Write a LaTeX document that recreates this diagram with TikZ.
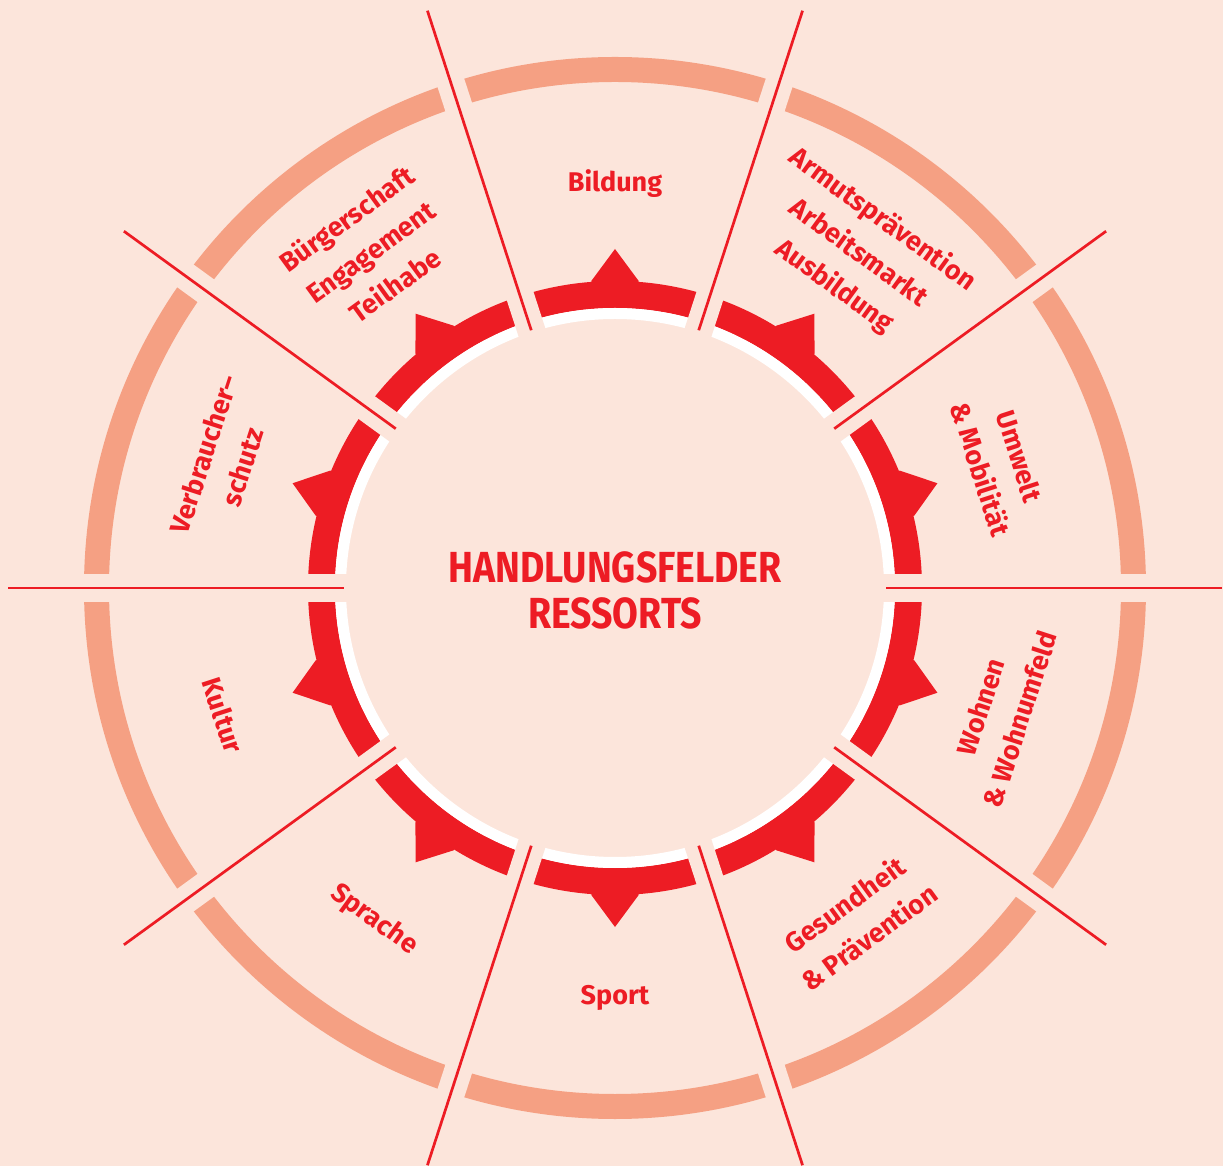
\documentclass[tikz,border=0pt]{standalone}
\usepackage{fontspec}
\setmainfont{Fira Sans}
\newfontfamily\titlefont{Fira Sans}[FakeStretch=0.86]
\definecolor{bg}{HTML}{FCE5DB}
\definecolor{ring}{HTML}{F5A083}
\definecolor{hred}{HTML}{ED1C24}
\begin{document}
\begin{tikzpicture}[x=1pt,y=1pt,
  lbl/.style={text=hred, font=\fontsize{27}{41}\selectfont\bfseries, align=center, inner sep=0pt},
  ttl/.style={text=hred, font=\titlefont\fontsize{43.5}{46}\selectfont\bfseries, inner sep=0pt, anchor=base},
  divider/.style={draw=hred, line width=2.7pt},
  gapline/.style={draw=bg, line width=28pt},
  pointer/.style={fill=hred}]
\fill[bg] (-615,-578) rectangle (608,588);
\useasboundingbox (-615,-578) rectangle (608,588);
% outer light ring
\draw[ring, line width=25pt] (0,0) circle[radius=518.5pt];
% red ring and white inner ring
\draw[hred, line width=27pt] (0,0) circle[radius=293.5pt];
\draw[white, line width=11pt] (0,0) circle[radius=274.5pt];
% pointers
\foreach \a in {18,54,...,342}
  \fill[pointer] (\a+4.4:308) -- (\a:339) -- (\a-4.4:308) -- (\a-4.4:295) -- (\a+4.4:295) -- cycle;
% gaps and dividers
\foreach \a in {0,36,...,324} \draw[gapline] (\a:255) -- (\a:545);
\foreach \a in {0,36,...,324} {
  \coordinate (din\a) at (\a:271);
  \coordinate (dout\a) at (\a:607);
  \draw[divider] (din\a) -- (dout\a);
}
% title
\node[ttl] (title1) at (0,5) {HANDLUNGSFELDER};
\node[ttl] (title2) at (0,-41) {RESSORTS};
% labels
\node[lbl] (bildung) at (90:404) {Bildung};
\node[lbl, rotate=-36] (armut) at (54:414) {Armutsprävention\\Arbeitsmarkt\\Ausbildung};
\node[lbl, rotate=-72] (umwelt) at (18:405) {Umwelt\\\& Mobilität};
\node[lbl, rotate=72] (wohnen) at (-18:405) {Wohnen\\\& Wohnumfeld};
\node[lbl, rotate=36] (gesund) at (306:411) {Gesundheit\\\& Prävention};
\node[lbl] (sport) at (270:410) {Sport};
\node[lbl, rotate=-36] (sprache) at (234:410) {Sprache};
\node[lbl, rotate=-72] (kultur) at (198:412) {Kultur};
\node[lbl, rotate=72] (verbr) at (162:412) {Verbraucher–\\schutz};
\node[lbl, rotate=36] (buerger) at (126:416) {Bürgerschaft\\Engagement\\Teilhabe};
\end{tikzpicture}
\end{document}
